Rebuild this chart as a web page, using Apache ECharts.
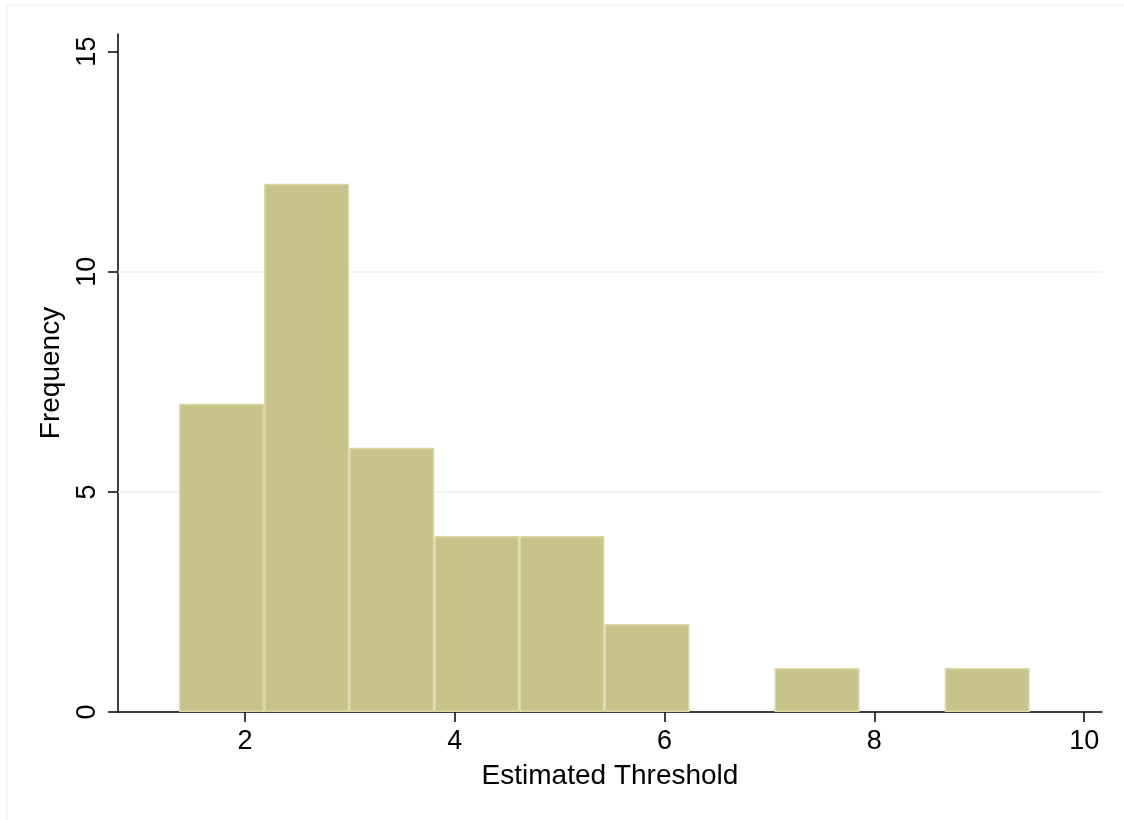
<!DOCTYPE html>
<html>
<head>
<meta charset="utf-8">
<script src="https://cdn.jsdelivr.net/npm/echarts@6/dist/echarts.min.js"></script>
<style>html,body{margin:0;padding:0;background:#fff}#c{width:1124px;height:820px}</style>
</head>
<body>
<div id="c"></div>
<script>
// Histogram bin edges (Estimated Threshold) and frequencies
const binEdges = [1.371, 2.182, 2.993, 3.804, 4.615, 5.426, 6.237, 7.048, 7.859, 8.670, 9.481];
const counts = [7, 12, 6, 4, 4, 2, 0, 1, 0, 1];
const xTicks = [2, 4, 6, 8, 10];
const yTicks = [0, 5, 10, 15];
const yGrid = [5, 10];

const data = counts.map((c, i) => [binEdges[i], binEdges[i + 1], c]);
const font = 'Liberation Sans, Arial, Helvetica, sans-serif';

const chart = echarts.init(document.getElementById('c'));
chart.setOption({
  animation: false,
  backgroundColor: '#fff',
  grid: { left: 118, right: 22, top: 34, bottom: 108, containLabel: false },
  xAxis: {
    type: 'value', min: 0.789, max: 10.17,
    name: 'Estimated Threshold', nameLocation: 'middle', nameGap: 50,
    nameTextStyle: { fontFamily: font, fontSize: 28, color: '#000' },
    axisLine: { show: true, onZero: false, lineStyle: { color: '#000', width: 1.5 } },
    axisTick: { show: true, length: 10, customValues: xTicks, lineStyle: { color: '#000', width: 1.5 } },
    axisLabel: { customValues: xTicks, fontFamily: font, fontSize: 27, color: '#000', margin: 16 },
    splitLine: { show: false }
  },
  yAxis: {
    type: 'value', min: 0, max: 15.4,
    name: 'Frequency', nameLocation: 'middle', nameGap: 53, nameRotate: 90,
    nameTextStyle: { fontFamily: font, fontSize: 28, color: '#000' },
    axisLine: { show: true, lineStyle: { color: '#000', width: 1.5 } },
    axisTick: { show: true, length: 10, customValues: yTicks, lineStyle: { color: '#000', width: 1.5 } },
    axisLabel: { customValues: yTicks, rotate: 90, fontFamily: font, fontSize: 27, color: '#000', margin: 17 },
    splitLine: { show: false }
  },
  graphic: [
    { type: 'line', shape: { x1: 7, y1: 5, x2: 1124, y2: 5 }, style: { stroke: '#ececec', lineWidth: 1 }, silent: true },
    { type: 'line', shape: { x1: 7, y1: 5, x2: 7, y2: 820 }, style: { stroke: '#ececec', lineWidth: 1 }, silent: true }
  ],
  series: [
    {
      type: 'custom',
      data: data,
      encode: { x: [0, 1], y: 2 },
      renderItem: function (params, api) {
        const h = api.value(2);
        if (!h) return null;
        const p0 = api.coord([api.value(0), 0]);
        const p1 = api.coord([api.value(1), h]);
        return {
          type: 'rect',
          shape: { x: p0[0] + 0.75, y: p1[1] + 0.75, width: p1[0] - p0[0] - 1.5, height: p0[1] - p1[1] - 1.5 },
          style: { fill: '#c8c388', stroke: '#dbd8a9', lineWidth: 1.5 }
        };
      },
      z: 3,
      markLine: {
        silent: true, symbol: 'none', label: { show: false },
        lineStyle: { color: '#e8f0f3', width: 1.5, type: 'solid' },
        data: yGrid.map(v => ({ yAxis: v })),
        z: 1
      }
    }
  ]
});
</script>
</body>
</html>
